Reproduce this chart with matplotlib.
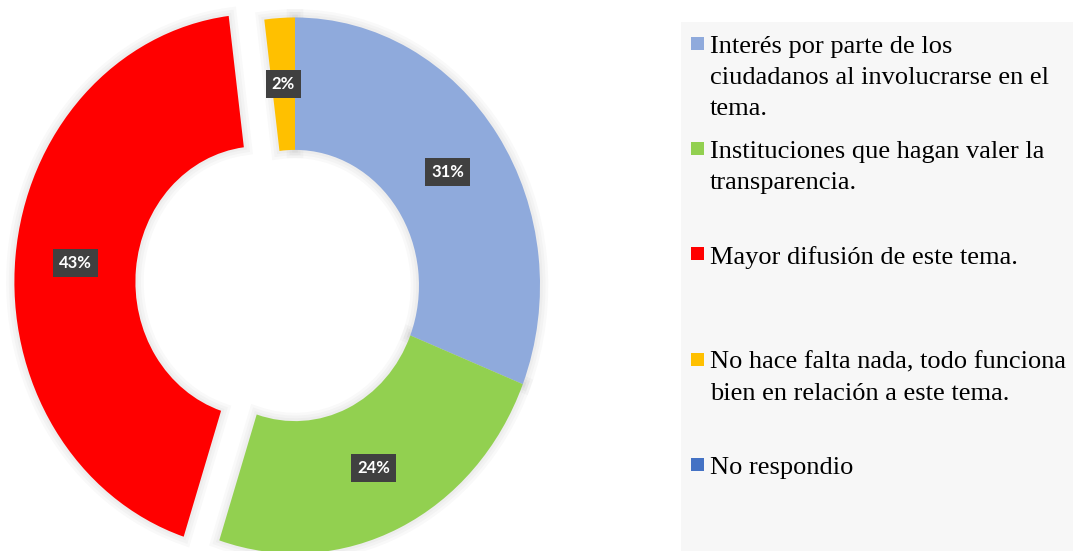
import matplotlib.pyplot as plt
import matplotlib.patches as mpatches
import numpy as np

# datos de la encuesta (porcentajes)
etiquetas = ['Interés por parte de los\nciudadanos al involucrarse en el\ntema.',
             'Instituciones que hagan valer la\ntransparencia.',
             'Mayor difusión de este tema.',
             'No hace falta nada, todo funciona\nbien en relación a este tema.',
             'No respondio']
valores = [31, 24, 43, 2, 0]
colores = ['#8FAADC', '#92D050', '#FF0000', '#FFC000', '#4472C4']
separar = [0, 0, 0.146, 0, 0]

W, H = 1073, 551
fig = plt.figure(figsize=(W / 100, H / 100), dpi=100)

# ejes del anillo (la imagen original esta algo comprimida en horizontal)
ax = fig.add_axes([0, 0, 600 / W, 1])
cx, cy = 295, 285.5
sx, sy = 245, 268


def fmt(p):
    return '%d%%' % round(p) if p > 0.5 else ''


wedges, textos, pcts = ax.pie(valores, colors=colores, explode=separar,
                              startangle=90, counterclock=False,
                              wedgeprops=dict(width=0.494, linewidth=0, zorder=3),
                              autopct=fmt, pctdistance=0.753)
# sombra suave alrededor de cada porcion
for w in wedges:
    for lw in [12, 8, 4]:
        sombra = mpatches.PathPatch(w.get_path(), transform=w.get_transform(),
                                    fc='none', ec='#000000', lw=lw, alpha=0.025,
                                    zorder=1)
        ax.add_patch(sombra)
for t in pcts:
    t.set_fontfamily('Lato')
    t.set_fontweight('bold')
    t.set_fontsize(12)
    t.set_color('white')
    t.set_zorder(5)
    t.set_bbox(dict(boxstyle='square,pad=0.36', fc='#404040', ec='none'))
ax.set_aspect('auto')
ax.set_xlim(-cx / sx, (600 - cx) / sx)
ax.set_ylim((cy - H) / sy, cy / sy)
ax.axis('off')

# leyenda a mano, fondo gris claro
fig.patches.append(mpatches.Rectangle((681 / W, 0), 1 - 681 / W, 1 - 22 / H,
                                      transform=fig.transFigure,
                                      fc='#F7F7F7', ec='none', zorder=0))
y0 = 37
paso = 105.2
for i, (lab, c) in enumerate(zip(etiquetas, colores)):
    y = y0 + i * paso
    fig.patches.append(mpatches.Rectangle((691 / W, 1 - (y + 13) / H), 13 / W, 13 / H,
                                          transform=fig.transFigure,
                                          fc=c, ec='none', zorder=2))
    fig.text(710 / W, 1 - (y - 1) / H, lab, family='Liberation Serif',
             fontsize=19, va='top', ha='left', linespacing=1.54, zorder=3)

fig.savefig('out.png', dpi=100)
